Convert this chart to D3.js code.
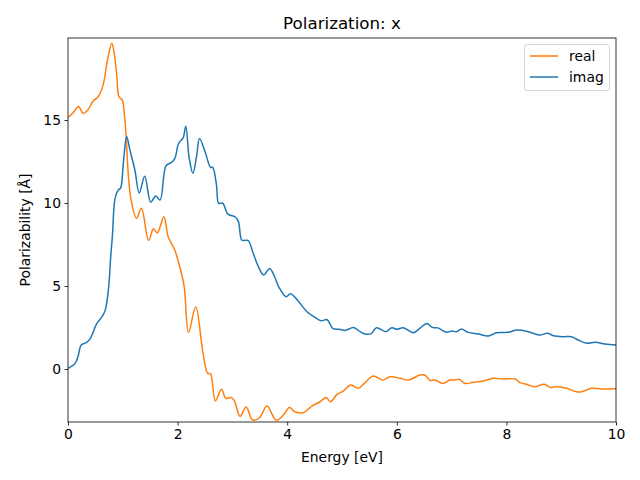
<!DOCTYPE html>
<html><head><meta charset="utf-8">
<script src="https://cdn.jsdelivr.net/npm/d3@7"></script>
<style>body{margin:0;background:#fff}svg{display:block}text{font-family:"DejaVu Sans",sans-serif;fill:#000}</style>
</head><body><svg id="c" width="640" height="480"></svg>
<script>
const realE = [0.00,0.10,0.19,0.28,0.36,0.46,0.55,0.64,0.72,0.80,0.84,0.89,0.93,0.99,1.03,1.06,1.10,1.15,1.25,1.34,1.47,1.56,1.63,1.75,1.83,1.95,2.04,2.12,2.20,2.33,2.46,2.55,2.60,2.69,2.80,2.88,2.97,3.03,3.14,3.25,3.37,3.50,3.63,3.80,3.93,4.04,4.14,4.29,4.45,4.60,4.71,4.79,4.91,5.02,5.16,5.30,5.42,5.57,5.74,5.88,6.06,6.21,6.42,6.51,6.61,6.70,6.84,6.97,7.06,7.14,7.24,7.40,7.58,7.76,7.94,8.16,8.25,8.37,8.51,8.69,8.80,8.92,9.10,9.28,9.37,9.56,9.74,10.00];
const realV = [15.15,15.45,15.82,15.40,15.60,16.15,16.40,17.10,18.60,19.62,19.10,17.70,16.40,16.20,15.30,14.10,11.70,10.20,9.08,9.68,7.75,8.45,8.20,9.17,7.95,7.15,6.16,4.96,2.20,3.75,1.04,-0.26,-0.28,-1.91,-1.22,-1.77,-1.72,-1.87,-2.85,-2.29,-3.07,-2.92,-2.23,-3.08,-2.77,-2.31,-2.57,-2.63,-2.23,-1.97,-1.71,-1.97,-1.53,-1.33,-0.96,-1.16,-0.82,-0.42,-0.66,-0.46,-0.56,-0.66,-0.36,-0.36,-0.68,-0.66,-0.86,-0.66,-0.66,-0.62,-0.86,-0.80,-0.72,-0.56,-0.60,-0.60,-0.82,-0.92,-1.07,-0.92,-1.10,-1.07,-1.16,-1.37,-1.37,-1.16,-1.20,-1.19];
const imagE = [0.00,0.13,0.19,0.24,0.34,0.41,0.52,0.63,0.68,0.74,0.78,0.81,0.86,0.92,0.96,1.01,1.07,1.13,1.22,1.30,1.40,1.51,1.60,1.68,1.79,1.89,1.95,2.02,2.10,2.15,2.21,2.28,2.35,2.40,2.51,2.60,2.64,2.71,2.75,2.82,2.92,3.05,3.11,3.17,3.23,3.29,3.38,3.47,3.57,3.68,3.77,3.85,3.98,4.06,4.21,4.36,4.51,4.62,4.73,4.83,4.95,5.06,5.21,5.33,5.42,5.53,5.63,5.80,5.91,6.00,6.12,6.30,6.42,6.55,6.65,6.75,6.91,7.00,7.09,7.18,7.30,7.49,7.67,7.82,8.03,8.19,8.40,8.60,8.75,8.86,9.04,9.19,9.31,9.47,9.62,9.80,10.00];
const imagV = [0.04,0.34,0.84,1.45,1.60,1.85,2.70,3.20,3.55,4.85,6.80,8.00,10.30,10.80,10.90,12.40,14.00,13.19,11.99,10.60,11.62,10.05,10.43,10.18,12.25,12.45,12.69,13.60,13.92,14.62,12.75,11.79,12.90,13.88,13.00,12.15,12.15,11.08,9.98,10.00,9.33,9.16,8.88,7.77,7.75,7.74,6.97,6.20,5.66,6.06,5.56,4.92,4.36,4.54,4.06,3.45,3.11,2.91,2.97,2.45,2.39,2.33,2.50,2.25,2.11,2.13,2.49,2.25,2.49,2.39,2.49,2.19,2.45,2.75,2.51,2.48,2.21,2.29,2.25,2.41,2.21,2.11,1.99,2.19,2.21,2.35,2.25,2.05,2.15,2.01,1.95,1.95,1.75,1.55,1.61,1.51,1.45];
const xTicks = [0,2,4,6,8,10];
const yTicks = [0,5,10,15];
const seriesNames = ["real","imag"];
const seriesColors = ["#ff7f0e","#1f77b4"];

const svg = d3.select("#c");
const L=68,R=616,T=38,B=422;
const x = d3.scaleLinear().domain([0,10]).range([L,R]);
const y = d3.scaleLinear().domain([-3.19,19.94]).range([B,T]);

const clip = svg.append("clipPath").attr("id","cp").append("rect").attr("x",L).attr("y",T).attr("width",R-L).attr("height",B-T);
const line = d3.line().x(d=>x(d[0])).y(d=>y(d[1])).curve(d3.curveCatmullRom.alpha(0.5));
const series = [realE.map((e,i)=>[e,realV[i]]), imagE.map((e,i)=>[e,imagV[i]])];
const g = svg.append("g").attr("clip-path","url(#cp)");
series.forEach((s,i)=>{
  g.append("path").datum(s).attr("d",line).attr("fill","none").attr("stroke",seriesColors[i]).attr("stroke-width",1.5).attr("stroke-linejoin","round").attr("stroke-linecap","square");
});

const xa = svg.append("g").attr("transform",`translate(0,${B})`).call(d3.axisBottom(x).tickValues(xTicks).tickSize(3.5).tickPadding(3.5).tickFormat(d3.format("d")));
const ya = svg.append("g").attr("transform",`translate(${L},0)`).call(d3.axisLeft(y).tickValues(yTicks).tickSize(3.5).tickPadding(3.5).tickFormat(d3.format("d")));
[xa,ya].forEach(a=>{a.select(".domain").remove();a.selectAll("line").attr("stroke","#000").attr("stroke-width",0.8);a.selectAll("text").attr("font-size","13.9px").attr("font-family","DejaVu Sans");});
svg.append("rect").attr("x",L).attr("y",T).attr("width",R-L).attr("height",B-T).attr("fill","none").attr("stroke","#000").attr("stroke-width",0.8);

svg.append("text").attr("x",(L+R)/2).attr("y",29).attr("text-anchor","middle").attr("font-size","16.7px").text("Polarization: x");
svg.append("text").attr("x",(L+R)/2).attr("y",462).attr("text-anchor","middle").attr("font-size","13.9px").text("Energy [eV]");
svg.append("text").attr("transform",`translate(30,${(T+B)/2}) rotate(-90)`).attr("text-anchor","middle").attr("font-size","13.9px").text("Polarizability [Å]");

const lg = svg.append("g");
lg.append("rect").attr("x",524.5).attr("y",44.5).attr("width",85).attr("height",46).attr("rx",2.5).attr("fill","#fff").attr("fill-opacity",0.8).attr("stroke","#d6d6d6").attr("stroke-width",1);
seriesNames.forEach((n,i)=>{
  const yy = 56 + i*21;
  lg.append("line").attr("x1",530).attr("x2",558).attr("y1",yy).attr("y2",yy).attr("stroke",seriesColors[i]).attr("stroke-width",1.5);
  lg.append("text").attr("x",569).attr("y",yy+5).attr("font-size","13.9px").text(n);
});
</script></body></html>
